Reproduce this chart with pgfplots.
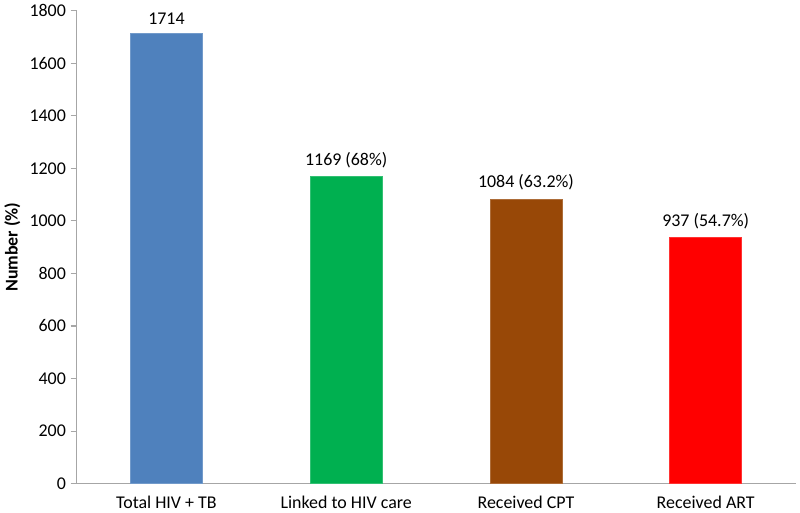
\documentclass[border=0pt]{standalone}
\usepackage{pgfplots}
\pgfplotsset{compat=1.18}
\usepackage{fontspec}
\setmainfont{Carlito}
\definecolor{cblue}{HTML}{4F81BD}
\definecolor{cgreen}{HTML}{00B050}
\definecolor{cbrown}{HTML}{984807}
\definecolor{cred}{HTML}{FF0000}
\definecolor{axgray}{HTML}{A6A6A6}
\begin{document}
\begin{tikzpicture}
\begin{axis}[
  width=541.5pt, height=356.25pt, scale only axis,
  font=\fontsize{13.5}{15}\selectfont,
  /pgf/number format/assume math mode=true,
  axis x line=bottom, axis y line=left,
  axis line style={axgray, line width=0.8pt, -},
  xmin=-0.5, xmax=3.5, ymin=0, ymax=1800,
  ytick={0,200,...,1800},
  yticklabel style={/pgf/number format/1000 sep={}},
  xtick={0,1,2,3},
  xticklabels={Total HIV + TB, Linked to HIV care, Received CPT, Received ART},
  xticklabel style={yshift=-1pt},
  major x tick style={draw=none},
  extra x ticks={-0.5,0.5,1.5,2.5,3.5},
  extra x tick labels={},
  extra x tick style={tick style={axgray, line width=0.8pt}, major tick length=4.5pt, tick align=outside},
  tick style={axgray, line width=0.8pt},
  major tick length=4.5pt, tick align=outside,
  ylabel={\textbf{Number (\%)}},
  ylabel style={yshift=0pt},
  bar width=0.4,
  ybar, bar shift=0pt,
  nodes near coords, point meta=explicit symbolic,
  nodes near coords style={anchor=south, yshift=3pt, black},
  clip=false,
]
\addplot[fill=cblue, draw=cblue!80!white] coordinates {(0,1714) [1714]};
\addplot[fill=cgreen, draw=cgreen!80!white] coordinates {(1,1169) [1169 (68\%)]};
\addplot[fill=cbrown, draw=cbrown!80!white] coordinates {(2,1084) [1084 (63.2\%)]};
\addplot[fill=cred, draw=cred!80!white] coordinates {(3,937) [937 (54.7\%)]};
\end{axis}
\end{tikzpicture}
\end{document}
